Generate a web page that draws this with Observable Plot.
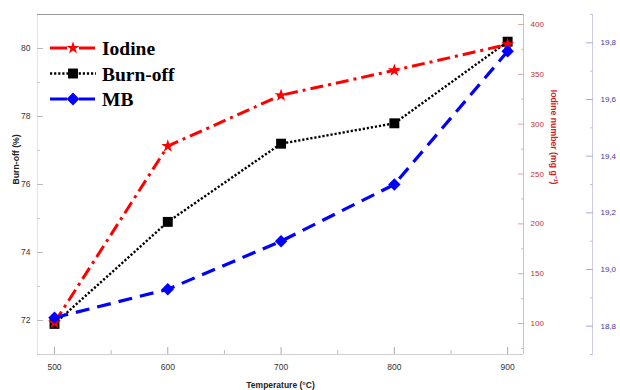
<!DOCTYPE html>
<html>
<head>
<meta charset="utf-8">
<script src="https://cdn.jsdelivr.net/npm/d3@7"></script>
<script src="https://cdn.jsdelivr.net/npm/@observablehq/plot@0.6"></script>
<style>
  body { margin: 0; background: #fff; }
  #chart svg { display: block; }
</style>
</head>
<body>
<div id="chart"></div>
<script>
// Activation temperature series
const temperature = [500, 600, 700, 800, 900];
const burnOff = [71.9, 74.9, 77.2, 77.8, 80.2];      // %
const iodine = [101, 278, 329, 354, 380];            // mg g-1
const mb = [18.83, 18.93, 19.10, 19.30, 19.77];      // MB uptake

// Axis ticks
const xTicks = [500, 600, 700, 800, 900];
const xMinorTicks = [550, 650, 750, 850];
const burnTicks = [72, 74, 76, 78, 80];
const burnMinorTicks = [73, 75, 77, 79];
const iodineTicks = [100, 150, 200, 250, 300, 350, 400];
const iodineMinorTicks = [75, 125, 175, 225, 275, 325, 375];
const mbTicks = [18.8, 19.0, 19.2, 19.4, 19.6, 19.8];
const mbMinorTicks = [18.7, 18.9, 19.1, 19.3, 19.5, 19.7, 19.9];

// Labels
const seriesNames = ["Iodine", "Burn-off", "MB"];
const xTitle = "Temperature (°C)";
const burnTitle = "Burn-off (%)";
const iodineTitle = "Iodine number (mg g⁻¹)";

// Scale domains
const xDomain = [485, 914];
const burnDomain = [71, 81];
const iodineDomain = [69, 410];
const mbDomain = [18.7, 19.9];

const RED = "#ff0000", BLACK = "#000000", BLUE = "#0000ff";
const DOTS = "2.2,1.9", DASH_DOT = "13,5,3,5", DASHES = "14,8";

// secondary axes are expressed in the primary (burn-off) units
const iodineToY = d3.scaleLinear(iodineDomain, burnDomain);
const mbToY = d3.scaleLinear(mbDomain, burnDomain);

const rows = temperature.map((t, i) => ({
  t, burn: burnOff[i], iodine: iodine[i], mb: mb[i]
}));

const blueOffset = 69;

const chart = Plot.plot({
  width: 620,
  height: 390,
  marginTop: 14,
  marginBottom: 36,
  marginLeft: 37,
  marginRight: 97,
  style: { fontFamily: "'Liberation Sans', Arial, sans-serif", background: "#fff", overflow: "visible" },
  x: { domain: xDomain },
  y: { domain: burnDomain },
  marks: [
    // frame lines
    Plot.ruleX([xDomain[0]], { stroke: "#e4e4e4" }),
    Plot.ruleY([burnDomain[1]], { stroke: "#999" }),
    Plot.ruleY([burnDomain[0]], { stroke: "#cfcfcf" }),
    Plot.ruleX([xDomain[1]], { stroke: "#eab8b8" }),
    Plot.ruleX([xDomain[1]], { stroke: "#cfcfe8", dx: blueOffset }),

    // x axis
    Plot.axisX({ ticks: xTicks, tickSize: 7, dy: -7, stroke: "#aaa", fill: null, label: null }),
    Plot.axisX({ ticks: xMinorTicks, tickSize: 4, dy: -4, stroke: "#bbb", fill: null, label: null }),
    Plot.axisX({ ticks: xTicks, tickSize: 0, tickPadding: 9, fill: "#333", fontSize: 8.5, label: null }),

    // left axis: burn-off
    Plot.axisY({ anchor: "left", ticks: burnTicks, tickSize: 6, dx: 6, stroke: "#bbb", fill: null, label: null }),
    Plot.axisY({ anchor: "left", ticks: burnMinorTicks, tickSize: 3, dx: 3, stroke: "#ccc", fill: null, label: null }),
    Plot.axisY({ anchor: "left", ticks: burnTicks, tickSize: 0, tickPadding: 7, fill: "#333", fontSize: 8.5, label: null }),

    // right axis: iodine number
    Plot.axisY({ anchor: "right", ticks: iodineTicks.map(iodineToY), tickSize: 6, dx: -6, stroke: "#e3a5a5", fill: null, label: null }),
    Plot.axisY({ anchor: "right", ticks: iodineMinorTicks.map(iodineToY), tickSize: 3, dx: -3, stroke: "#e8b4b4", fill: null, label: null }),
    Plot.axisY({
      anchor: "right", ticks: iodineTicks.map(iodineToY), tickSize: 0, tickPadding: 7,
      tickFormat: v => String(Math.round(iodineToY.invert(v))),
      fill: "#c83232", fontSize: 8, label: null
    }),

    // outer right axis: MB
    Plot.axisY({ anchor: "right", ticks: mbTicks.map(mbToY), tickSize: 7, dx: blueOffset - 7, stroke: "#a9a9d8", fill: null, label: null }),
    Plot.axisY({ anchor: "right", ticks: mbMinorTicks.map(mbToY), tickSize: 3, dx: blueOffset - 3, stroke: "#c0c0e2", fill: null, label: null }),
    Plot.axisY({
      anchor: "right", ticks: mbTicks.map(mbToY), tickSize: 0, tickPadding: 8, dx: blueOffset,
      tickFormat: v => mbToY.invert(v).toFixed(1).replace(".", ","),
      fill: "#3c3ca4", fontSize: 8, label: null
    }),

    // axis titles
    Plot.text([xTitle], { text: d => d, frameAnchor: "bottom", dy: 33, fontSize: 8.5, fontWeight: "bold", fill: "#222" }),
    Plot.text([burnTitle], { text: d => d, frameAnchor: "left", dx: -21, rotate: -90, fontSize: 8.7, fontWeight: "bold", fill: "#222" }),
    Plot.text([iodineTitle], { text: d => d, frameAnchor: "right", dx: 30, rotate: 90, fontSize: 8.7, fontWeight: "bold", fill: "#d02020" }),

    // series lines
    Plot.line(rows, { x: "t", y: "burn", stroke: BLACK, strokeWidth: 2.4, strokeDasharray: DOTS, strokeLinecap: "butt" }),
    Plot.line(rows, { x: "t", y: d => iodineToY(d.iodine), stroke: RED, strokeWidth: 3, strokeDasharray: DASH_DOT, strokeLinecap: "butt" }),
    Plot.line(rows, { x: "t", y: d => mbToY(d.mb), stroke: BLUE, strokeWidth: 3.2, strokeDasharray: DASHES, strokeLinecap: "butt" }),

    // series markers
    Plot.dot(rows, { x: "t", y: "burn", symbol: "square", r: 5.6, fill: BLACK }),
    Plot.dot(rows, { x: "t", y: d => iodineToY(d.iodine), symbol: "star", r: 4.1, fill: RED }),
    Plot.dot(rows, { x: "t", y: d => mbToY(d.mb), symbol: "diamond2", r: 5.6, fill: BLUE })
  ]
});

// legend inside the upper-left corner of the frame
const legendStyles = [
  { color: RED, symbol: d3.symbolStar, r: 4.1, dotted: false },
  { color: BLACK, symbol: d3.symbolSquare, r: 5.6, dotted: true },
  { color: BLUE, symbol: d3.symbolDiamond2, r: 5.8, dotted: false }
];
const legend = d3.select(chart).append("g").attr("class", "legend");
seriesNames.forEach((name, i) => {
  const s = legendStyles[i];
  const cy = 48 + i * 25.5;
  const g = legend.append("g").attr("transform", `translate(0,${cy})`);
  if (s.dotted) {
    g.append("line").attr("x1", 50).attr("x2", 96).attr("y1", 0).attr("y2", 0)
      .attr("stroke", s.color).attr("stroke-width", 2.4).attr("stroke-dasharray", DOTS);
  } else {
    g.append("line").attr("x1", 50).attr("x2", 67).attr("y1", 0).attr("y2", 0)
      .attr("stroke", s.color).attr("stroke-width", 3);
    g.append("line").attr("x1", 79).attr("x2", 95).attr("y1", 0).attr("y2", 0)
      .attr("stroke", s.color).attr("stroke-width", 3);
  }
  g.append("path").attr("transform", "translate(73,0)")
    .attr("d", d3.symbol(s.symbol, Math.PI * s.r * s.r)())
    .attr("fill", s.color);
  g.append("text").attr("x", 102).attr("y", 7)
    .attr("text-anchor", "start")
    .attr("font-family", "'Liberation Serif', 'Times New Roman', serif")
    .attr("font-weight", "bold").attr("font-size", 19.5).attr("fill", "#000")
    .text(name);
});

document.getElementById("chart").append(chart);
</script>
</body>
</html>
